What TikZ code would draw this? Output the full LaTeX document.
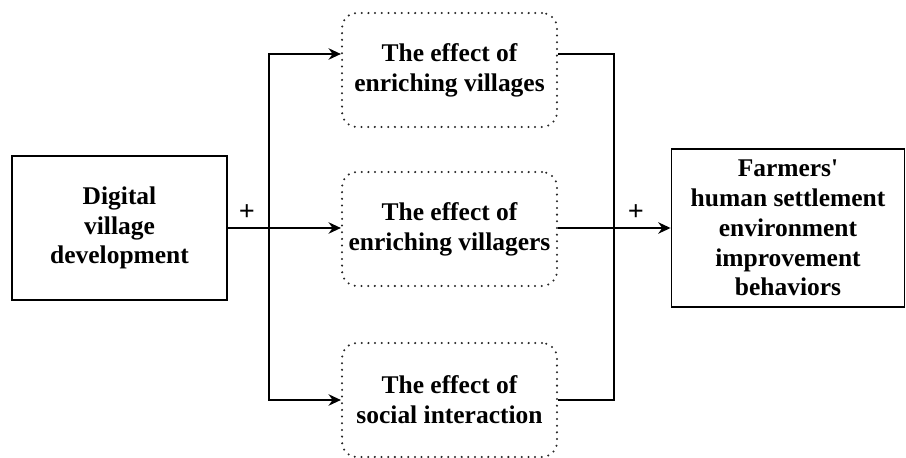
\documentclass[tikz,border=0pt]{standalone}
\usepackage{fontspec}
\setmainfont{Liberation Serif}
\usetikzlibrary{arrows.meta, calc}

\begin{document}
\begin{tikzpicture}[x=0.02cm, y=0.02cm]
\tikzset{
    node style sq/.style={draw, rectangle, line width=1.1pt, align=center,
        font=\bfseries\fontsize{14.5}{17}\selectfont},
    node style dot/.style={draw=black!85, rectangle, rounded corners=0.3cm, line width=1.3pt,
        dash pattern=on 0pt off 3.8pt, line cap=round, align=center,
        minimum width=4.3cm, minimum height=2.28cm,
        font=\bfseries\fontsize{14.5}{17}\selectfont},
    arrow style flow/.style={line width=1.1pt, -{Stealth[length=7pt, width=6.5pt]}},
    arrow style line/.style={line width=1.1pt}
}
  \useasboundingbox (0,0) rectangle (906,457);

  \node (dev) [node style sq, minimum width=4.3cm, minimum height=2.88cm] at (119.5,229)
        {Digital\\ village\\ development};
  \node (vil) [node style dot] at (449.5,387) {The effect of\\ enriching villages};
  \node (vgr) [node style dot] at (449.5,228) {The effect of\\ enriching villagers};
  \node (soc) [node style dot] at (449.5,57) {The effect of\\ social interaction};
  \node (beh) [node style sq, minimum width=4.66cm, minimum height=3.16cm] at (788,229)
        {Farmers\textquotesingle\\ human settlement\\ environment\\ improvement\\ behaviors};

  \coordinate (sL) at (269,229);
  \coordinate (sR) at (614,229);

  % split to the three effects
  \draw[arrow style flow] (dev.east) -- (vgr.west |- dev.east);
  \draw[arrow style flow] (sL) |- ([yshift=0.32cm]vil.west);
  \draw[arrow style flow] (sL) |- (soc.west);

  % join to the outcome
  \draw[arrow style line] ([yshift=0.32cm]vil.east) -| (sR);
  \draw[arrow style line] (soc.east) -| (sR);
  \draw[arrow style flow] (vgr.east |- beh.west) -- (beh.west);

  \node (pL) [font=\bfseries\fontsize{16}{17}\selectfont] at (247,244) {+};
  \node (pR) [font=\bfseries\fontsize{16}{17}\selectfont] at (636,244) {+};
\end{tikzpicture}
\end{document}
